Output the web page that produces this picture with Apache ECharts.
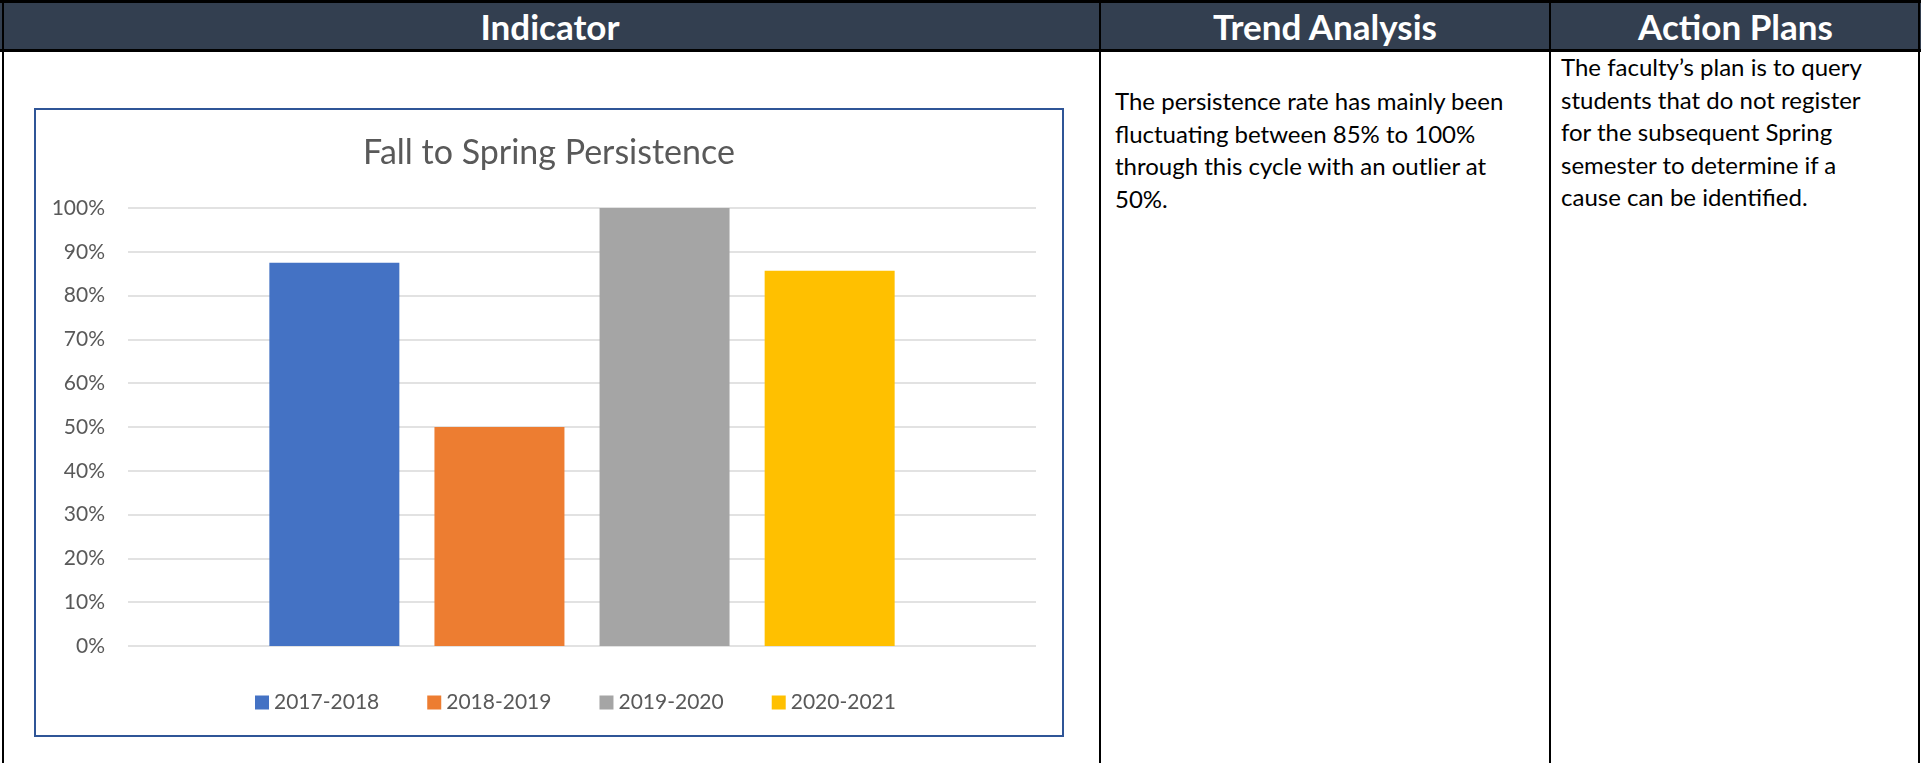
<!DOCTYPE html>
<html>
<head>
<meta charset="utf-8">
<title>Fall to Spring Persistence</title>
<script src="https://cdn.jsdelivr.net/npm/echarts/dist/echarts.min.js"></script>
<style>
  html, body { margin: 0; padding: 0; background: #fff; }
  body { width: 1921px; height: 763px; position: relative; overflow: hidden; font-family: Lato, "Noto Sans", sans-serif; }
  .head { position: absolute; left: 0; top: 0; width: 1921px; height: 49px; background: #333f50; border-top: 3px solid #000; box-sizing: border-box; }
  .head-line { position: absolute; left: 0; top: 49px; width: 1921px; height: 3px; background: #000; }
  .head span { position: absolute; top: 0; height: 46px; line-height: 46px; color: #fff; font-weight: 700; font-size: 35px; text-align: center; }
  .vline { position: absolute; top: 0; width: 2px; height: 763px; background: #000; }
  .cell-text { position: absolute; font-size: 24px; line-height: 32.5px; color: #000; white-space: nowrap; }
  #chart { position: absolute; left: 34px; top: 108px; width: 1026px; height: 625px; border: 2px solid #2f5597; }
</style>
</head>
<body>
  <div class="head">
    <span style="left:0;width:1100px;">Indicator</span>
    <span style="left:1100px;width:450px;">Trend Analysis</span>
    <span style="left:1550px;width:371px;">Action Plans</span>
  </div>
  <div class="head-line"></div>
  <div class="vline" style="left:2px;"></div>
  <div class="vline" style="left:1099px;"></div>
  <div class="vline" style="left:1549px;"></div>
  <div class="vline" style="left:1918px;"></div>

  <div class="cell-text" style="left:1115px;top:85px;">The persistence rate has mainly been<br>fluctuating between 85% to 100%<br>through this cycle with an outlier at<br>50%.</div>
  <div class="cell-text" style="left:1561px;top:51px;">The faculty’s plan is to query<br>students that do not register<br>for the subsequent Spring<br>semester to determine if a<br>cause can be identified.</div>

  <div id="chart"></div>

<script>
// 学年（图例）与持续率
const seasons = ['2017-2018', '2018-2019', '2019-2020', '2020-2021'];
const persistence = [0.875, 0.5, 1.0, 0.857];
const category = [''];

const chart = echarts.init(document.getElementById('chart'));

const option = {
  animation: false,
  color: ['#4472c4', '#ed7d31', '#a5a5a5', '#ffc000'],
  textStyle: { fontFamily: 'Lato' },
  title: {
    text: 'Fall to Spring Persistence',
    left: 'center',
    top: 21,
    textStyle: {
      fontFamily: 'Lato',
      fontSize: 34,
      fontWeight: 400,
      color: '#595959'
    }
  },
  legend: {
    left: 214,
    top: 577,
    itemWidth: 14,
    itemHeight: 14,
    itemGap: 48,
    icon: 'rect',
    textStyle: {
      fontFamily: 'Lato',
      fontSize: 21,
      color: '#595959'
    },
    data: seasons
  },
  grid: {
    left: 92,
    top: 98,
    width: 908,
    height: 438,
    containLabel: false
  },
  xAxis: {
    type: 'category',
    data: category,
    axisLine: { show: false },
    axisTick: { show: false },
    axisLabel: { show: false }
  },
  yAxis: {
    type: 'value',
    min: 0,
    max: 1,
    interval: 0.1,
    axisLine: { show: false },
    axisTick: { show: false },
    axisLabel: {
      margin: 23,
      fontFamily: 'Lato',
      fontSize: 21,
      color: '#595959',
      formatter: v => Math.round(v * 100) + '%'
    },
    splitLine: {
      lineStyle: { color: '#d9d9d9', width: 1.5 }
    }
  },
  series: seasons.map((name, i) => ({
    name: name,
    type: 'bar',
    barWidth: 130,
    barGap: '27%',
    data: [persistence[i]]
  }))
};

chart.setOption(option);
</script>
</body>
</html>
